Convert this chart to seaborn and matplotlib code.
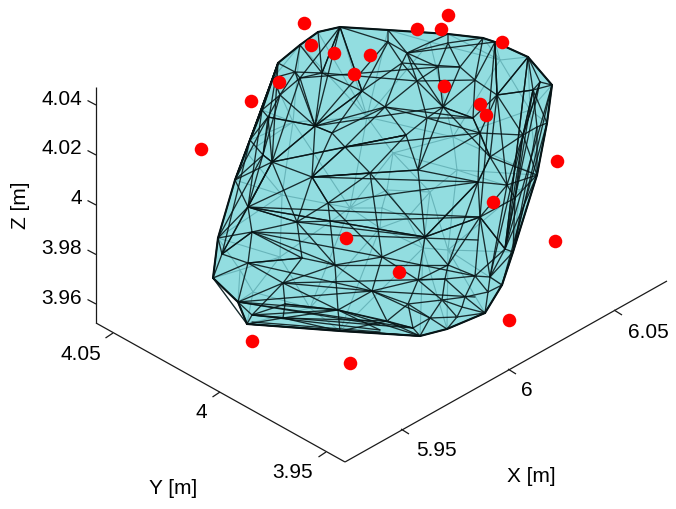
import matplotlib
matplotlib.use("Agg")
import matplotlib.pyplot as plt
import matplotlib.tri as mtri
import numpy as np
import pandas as pd
import seaborn as sns

# All geometry below is the 3-D figure's projected (viewing-plane) coordinates.
hull_u = [340, 388, 448, 483, 495, 528, 552, 547, 537, 513, 502, 485, 447, 420, 340, 247, 238, 213, 218, 235, 250, 262, 273, 278, 300, 318]
hull_v = [27, 30, 34, 38, 42, 57, 85, 123, 175, 252, 285, 313, 329, 336, 331, 324, 302, 278, 238, 180, 140, 110, 78, 63, 45, 32]

front_u = [315, 345, 272, 263, 300, 332, 362, 385, 388, 322, 295, 280, 268, 312, 370,
           407, 402, 438, 460, 417, 475, 448, 443, 427, 497, 473, 480, 406, 490, 523,
           537, 533, 540, 418, 478, 328, 248, 297, 252, 382, 335, 248, 302, 222, 283,
           372, 285, 283, 338, 252, 480, 425, 448, 475, 445, 418, 442, 408, 465, 462,
           488, 490, 505, 515, 507, 430, 457, 387, 413]
front_v = [126, 147, 162, 155, 78, 133, 91, 107, 42, 73, 72, 95, 117, 177, 173,
           53, 63, 67, 67, 81, 80, 43, 107, 118, 95, 118, 133, 135, 157, 135,
           127, 90, 82, 170, 182, 203, 207, 222, 232, 257, 265, 263, 258, 254, 283,
           291, 304, 318, 310, 315, 217, 237, 265, 276, 279, 280, 300, 304, 297, 307,
           292, 277, 249, 198, 185, 318, 317, 321, 328]

back_u = [280, 253, 448, 423, 430, 380, 457, 367, 293, 430, 453, 393, 282, 350, 382, 387, 407, 247, 310, 530, 520, 240, 500]
back_v = [257, 292, 250, 248, 192, 228, 170, 117, 122, 42, 137, 153, 195, 208, 208, 190, 218, 153, 308, 110, 190, 270, 60]

# Long thin facets of the front surface
long_from_u = [252, 252, 248, 297, 297, 252, 248, 248, 283, 238, 238, 252, 338, 247, 252, 238, 328, 312, 312, 315, 315, 345, 272, 272, 385, 443, 417, 402, 407, 300, 322, 497, 497, 523, 528, 540, 552, 495, 495, 528, 523, 278, 278, 300, 340, 340, 340, 340, 388, 248, 335, 382, 372, 248, 283,
               278, 263, 272, 280, 268, 262, 250, 528, 540, 533, 537, 547, 552, 533, 540, 537, 523, 515, 507, 247, 252, 238, 283, 252, 285, 338, 338, 372,
               315, 315, 315, 315, 315, 345, 345, 272, 272, 478, 478, 478, 480, 480, 480, 312, 312, 312, 248, 222, 222, 443, 443, 443, 473, 497, 497]
long_from_v = [232, 232, 207, 222, 222, 232, 263, 263, 283, 302, 302, 315, 310, 324, 315, 302, 203, 177, 177, 126, 126, 147, 162, 162, 107, 107, 81, 63, 53, 78, 73, 95, 95, 135, 57, 82, 85, 42, 42, 57, 135, 63, 63, 78, 27, 27, 27, 27, 41, 207, 265, 257, 291, 207, 283,
               63, 155, 162, 95, 117, 110, 140, 57, 82, 90, 127, 123, 85, 90, 82, 175, 135, 198, 185, 324, 315, 302, 318, 322, 304, 310, 310, 291,
               126, 126, 126, 126, 126, 147, 147, 162, 162, 182, 182, 182, 217, 217, 217, 177, 177, 177, 207, 254, 254, 107, 107, 107, 118, 95, 95]
long_to_u = [382, 335, 425, 480, 425, 478, 302, 372, 372, 372, 338, 338, 420, 420, 380, 380, 478, 478, 418, 443, 385, 480, 345, 406, 473, 473, 475, 460, 495, 438, 417, 490, 507, 505, 505, 515, 513, 497, 480, 497, 490, 263, 272, 272, 315, 300, 322, 362, 315, 480, 448, 475, 475, 425, 445,
             235, 218, 222, 248, 235, 248, 222, 505, 507, 515, 513, 502, 505, 523, 523, 505, 515, 505, 490, 420, 413, 413, 387, 380, 338, 413, 380, 430,
             272, 268, 295, 332, 362, 312, 406, 263, 248, 425, 448, 490, 425, 490, 505, 248, 328, 370, 297, 252, 248, 407, 418, 490, 490, 495, 533]
long_to_v = [257, 265, 237, 217, 237, 240, 258, 291, 291, 291, 310, 310, 336, 336, 330, 325, 182, 182, 170, 107, 107, 133, 147, 135, 118, 118, 80, 67, 42, 67, 81, 157, 185, 249, 249, 198, 252, 95, 217, 95, 277, 155, 162, 162, 126, 78, 73, 91, 126, 217, 265, 276, 297, 237, 279,
             180, 238, 254, 207, 180, 207, 254, 249, 185, 198, 252, 285, 249, 135, 135, 249, 198, 249, 277, 336, 328, 328, 321, 332, 310, 328, 330, 318,
             162, 117, 72, 133, 91, 177, 135, 155, 207, 237, 265, 157, 237, 277, 249, 207, 203, 173, 222, 232, 207, 53, 170, 157, 157, 42, 90]

point_u = [304, 448, 417, 441, 311, 334, 370, 502, 354, 279, 251, 444, 480, 486, 201, 557, 493, 555, 346, 399, 509, 252, 350]
point_v = [23, 15, 29, 29, 45, 53, 55, 42, 74, 82, 101, 86, 104, 115, 149, 161, 202, 241, 238, 272, 320, 341, 363]

z_axis_u = [96, 96]
z_axis_v = [87, 323]
y_axis_u = [96, 345]
y_axis_v = [323, 462]
x_axis_u = [345, 667]
x_axis_v = [462, 281]

z_tick_u = [96, 96, 96, 96, 96]
z_tick_v = [105, 155, 205, 254.5, 304]
y_tick_u = [113, 220, 326]
y_tick_v = [333, 392, 452]
x_tick_u = [401, 508, 614]
x_tick_v = [429, 369, 310]

z_labels = ["4.04", "4.02", "4", "3.98", "3.96"]
y_labels = ["4.05", "4", "3.95"]
x_labels = ["5.95", "6", "6.05"]

sns.set_theme(style="white")
plt.rcParams["font.family"] = ["Liberation Sans", "DejaVu Sans"]

fig = plt.figure(figsize=(6.76, 5.09), dpi=100)
ax = fig.add_axes([0, 0, 1, 1])
ax.set_xlim(0, 676)
ax.set_ylim(509, 0)
ax.axis("off")

TEAL = "#92dde0"
ax.fill(hull_u, hull_v, color=TEAL, lw=0, zorder=1)

# rear surface seen through the translucent body
bu = np.array(hull_u + back_u, float)
bv = np.array(hull_v + back_v, float)
ax.triplot(mtri.Triangulation(bu, bv), color="#3f8d94", lw=0.8, alpha=0.5, zorder=2)

# front surface
fu = np.array(hull_u + front_u, float)
fv = np.array(hull_v + front_v, float)
ax.triplot(mtri.Triangulation(fu, fv), color="#071416", lw=0.95, alpha=0.88, zorder=3)
for a, b, c, d in zip(long_from_u, long_from_v, long_to_u, long_to_v):
    ax.plot([a, c], [b, d], color="#071416", lw=0.95, alpha=0.88, zorder=3)

ax.plot(hull_u + hull_u[:1], hull_v + hull_v[:1], color="#071416", lw=1.5, zorder=4)

points = pd.DataFrame({"u": point_u, "v": point_v})
sns.scatterplot(data=points, x="u", y="v", ax=ax, color="#ff0000", s=95, linewidth=0, zorder=5, clip_on=False)
ax.set_xlim(0, 676)
ax.set_ylim(509, 0)
ax.axis("off")

AX = dict(color="#1a1a1a", lw=0.9, zorder=1, solid_capstyle="butt")
ax.plot(z_axis_u, z_axis_v, **AX)
ax.plot(y_axis_u, y_axis_v, **AX)
ax.plot(x_axis_u, x_axis_v, **AX)

for u, v in zip(z_tick_u, z_tick_v):
    ax.plot([u, u - 8.5], [v, v - 4.5], **AX)
for u, v in zip(y_tick_u, y_tick_v):
    ax.plot([u, u - 7.5], [v, v + 5], **AX)
for u, v in zip(x_tick_u, x_tick_v):
    ax.plot([u, u + 8], [v, v + 5], **AX)

FS = 15
TXT = dict(fontsize=FS, color="black", va="center")
for lab, v in zip(z_labels, [99, 149, 199, 249, 299]):
    ax.text(82, v, lab, ha="right", **TXT)
for lab, u, v in zip(y_labels, [81, 201, 293], [354, 413, 473]):
    ax.text(u, v, lab, ha="center", **TXT)
for lab, u, v in zip(x_labels, [436, 527, 648], [450, 390, 332]):
    ax.text(u, v, lab, ha="center", **TXT)
ax.text(173, 488, "Y [m]", ha="center", **TXT)
ax.text(531, 477, "X [m]", ha="center", **TXT)
ax.text(20, 205, "Z [m]", ha="center", rotation=90, **TXT)

fig.savefig("out.png", dpi=100)
